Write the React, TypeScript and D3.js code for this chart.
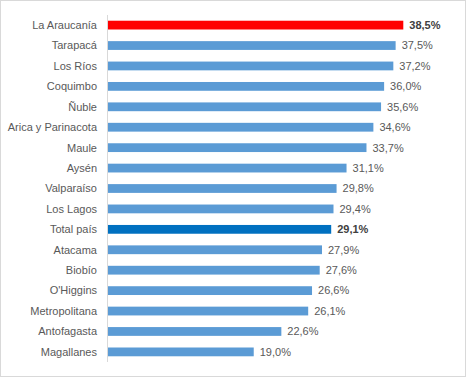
import React from "react";
import * as d3 from "d3";

const regions = ["La Araucanía","Tarapacá","Los Ríos","Coquimbo","Ñuble","Arica y Parinacota","Maule","Aysén","Valparaíso","Los Lagos","Total país","Atacama","Biobío","O'Higgins","Metropolitana","Antofagasta","Magallanes"];
const values = [38.5,37.5,37.2,36.0,35.6,34.6,33.7,31.1,29.8,29.4,29.1,27.9,27.6,26.6,26.1,22.6,19.0];
const highlightRed = ["La Araucanía"];
const highlightTotal = ["Total país"];

const W = 468, H = 378;

export default function App() {
  const x = d3.scaleLinear().domain([0, 40]).range([108, 414.8]);
  const y = d3.scaleBand<string>().domain(regions).range([15, 362]).paddingInner(0.57).paddingOuter(0.28);
  const fmt = (v: number) => v.toFixed(1).replace(".", ",") + "%";
  const font = "'Liberation Sans', Arial, sans-serif";
  return (
    <svg width={W} height={H} style={{ position: "absolute", left: 0, top: 0 }}>
      <rect x={0} y={0} width={W} height={H} fill="#fff" />
      <rect x={0.5} y={0.5} width={465} height={376} fill="none" stroke="#D9D9D9" />
      {regions.map((r, i) => {
        const isRed = highlightRed.includes(r);
        const isTot = highlightTotal.includes(r);
        const fill = isRed ? "#FF0000" : isTot ? "#0070C0" : "#5B9BD5";
        const yy = y(r)!;
        const bw = y.bandwidth();
        return (
          <g key={r}>
            <rect x={x(0)} y={yy} width={x(values[i]) - x(0)} height={bw} fill={fill} />
            <text x={97} y={yy + bw / 2} dy="0.35em" textAnchor="end" fontFamily={font} fontSize={11} fill="#595959">{r}</text>
            <text x={x(values[i]) + 6} y={yy + bw / 2} dy="0.35em" fontFamily={font} fontSize={11}
              fontWeight={isRed || isTot ? "bold" : "normal"} fill={isRed || isTot ? "#404040" : "#595959"}>{fmt(values[i])}</text>
          </g>
        );
      })}
      <line x1={107.5} x2={107.5} y1={15} y2={362} stroke="#D9D9D9" />
    </svg>
  );
}
